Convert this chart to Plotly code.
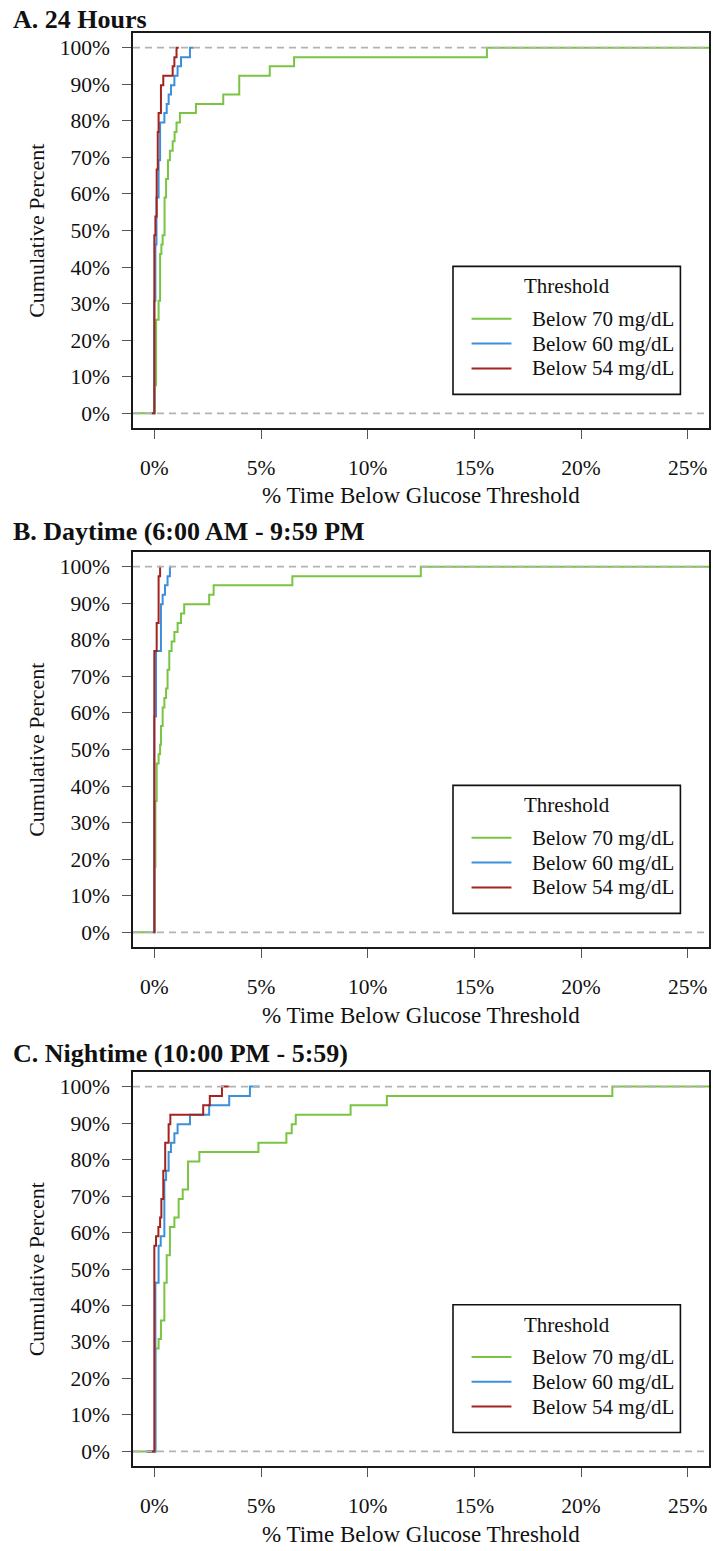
import plotly.graph_objects as go

# ---------------- data (jump positions in % time, cumulative percent after jump) -------------
panel_titles = ["A. 24 Hours", "B. Daytime (6:00 AM - 9:59 PM", "C. Nightime (10:00 PM - 5:59)"]
series_names = ["Below 70 mg/dL", "Below 60 mg/dL", "Below 54 mg/dL"]
series_colors = ["#7AC443", "#3D8FDA", "#A3231F"]

x_ticks = [0, 5, 10, 15, 20, 25]
x_ticktext = ["0%", "5%", "10%", "15%", "20%", "25%"]
y_ticks = [0, 10, 20, 30, 40, 50, 60, 70, 80, 90, 100]
y_ticktext = ["0%", "10%", "20%", "30%", "40%", "50%", "60%", "70%", "80%", "90%", "100%"]

# Panel A: 24 hours
a70_x = [0.02, 0.08, 0.20, 0.27, 0.33, 0.39, 0.48, 0.55, 0.64, 0.73, 0.86, 0.95, 1.04, 1.20, 1.95, 3.23, 3.98, 5.41, 6.55, 15.59]
a70_y = [7.7, 25.6, 30.8, 43.6, 46.2, 48.7, 59.0, 64.1, 69.2, 71.8, 74.4, 76.9, 79.5, 82.1, 84.6, 87.2, 92.3, 94.9, 97.4, 100]
a60_x = [0.0, 0.05, 0.10, 0.20, 0.27, 0.47, 0.58, 0.67, 0.78, 0.94, 1.09, 1.25, 1.67]
a60_y = [30.8, 46.2, 59.0, 69.2, 79.5, 82.1, 84.6, 87.2, 89.7, 92.3, 94.9, 97.4, 100]
a54_x = [0.0, 0.05, 0.11, 0.16, 0.20, 0.31, 0.42, 0.86, 0.94, 1.04]
a54_y = [48.7, 53.8, 66.7, 76.9, 82.1, 89.7, 92.3, 94.9, 97.4, 100]

# Panel B: daytime
b70_x = [0.02, 0.05, 0.11, 0.20, 0.27, 0.31, 0.39, 0.47, 0.55, 0.62, 0.70, 0.81, 0.94, 1.09, 1.25, 1.40, 2.57, 2.78, 6.47, 12.49]
b70_y = [17.9, 35.9, 46.2, 48.7, 51.3, 56.4, 61.5, 64.1, 66.7, 71.8, 76.9, 79.5, 82.1, 84.6, 87.2, 89.7, 92.3, 94.9, 97.4, 100]
b60_x = [0.0, 0.08, 0.31, 0.39, 0.50, 0.62, 0.73]
b60_y = [59.0, 76.9, 89.7, 92.3, 94.9, 97.4, 100]
b54_x = [0.0, 0.11, 0.20, 0.27]
b54_y = [76.9, 84.6, 97.4, 100]

# Panel C: nighttime
c70_x = [0.05, 0.20, 0.31, 0.47, 0.58, 0.73, 0.94, 1.14, 1.33, 1.58, 2.11, 4.88, 6.19, 6.44, 6.63, 9.20, 10.90, 21.47]
c70_y = [28.2, 30.8, 35.9, 46.2, 53.8, 61.5, 64.1, 69.2, 71.8, 79.5, 82.1, 84.6, 87.2, 89.7, 92.3, 94.9, 97.4, 100]
c60_x = [0.05, 0.20, 0.30, 0.47, 0.55, 0.67, 0.78, 0.94, 1.09, 1.67, 2.57, 3.51, 4.48]
c60_y = [46.2, 56.4, 59.0, 74.4, 76.9, 82.1, 84.6, 87.2, 89.7, 92.3, 94.9, 97.4, 100]
c54_x = [0.0, 0.08, 0.19, 0.27, 0.33, 0.42, 0.51, 0.67, 0.75, 2.29, 2.60, 3.17]
c54_y = [56.4, 59.0, 61.5, 64.1, 69.2, 76.9, 84.6, 89.7, 92.3, 94.9, 97.4, 100]

panels = [
    [(a70_x, a70_y), (a60_x, a60_y), (a54_x, a54_y)],
    [(b70_x, b70_y), (b60_x, b60_y), (b54_x, b54_y)],
    [(c70_x, c70_y), (c60_x, c60_y), (c54_x, c54_y)],
]

# ---------------- layout geometry ----------------
W, H = 713, 1551
ML, MR, MT, MB = 133, 2, 33, 85
PLOT_TOP, PLOT_BOT = MT, H - MB
PH = PLOT_BOT - PLOT_TOP
box_tops = [33, 552, 1072]
box_bots = [428, 947, 1466]
title_y = [19, 531, 1053]
XR = [-1, 26]
YR = [-4, 104]
FONT = "Liberation Serif, Times New Roman, serif"


def py(ypx):
    return (PLOT_BOT - ypx) / PH


def px(xpx):
    return (xpx - ML) / (W - ML - MR)


fig = go.Figure()
layout = dict(
    width=W, height=H,
    margin=dict(l=ML, r=MR, t=MT, b=MB),
    paper_bgcolor="white", plot_bgcolor="white",
    showlegend=False,
    font=dict(family=FONT, size=21, color="#111111"),
)
shapes, annotations = [], []

for i, series in enumerate(panels):
    sfx = "" if i == 0 else str(i + 1)
    xa, ya = "x" + sfx, "y" + sfx
    for j, (jx, jy) in enumerate(series):
        if j == 0:
            start, end = XR[0] - 1, XR[1] + 1
        else:
            ext = 0.1 * (max(jx) - min(jx))
            start, end = min(jx) - ext, max(jx) + ext
        xs = [start] + list(jx) + [end]
        ys = [0] + list(jy) + [jy[-1]]
        fig.add_trace(go.Scatter(
            x=xs, y=ys, mode="lines", line=dict(color=series_colors[j], width=2, shape="hv"),
            name=series_names[j], xaxis=xa, yaxis=ya, hoverinfo="skip"))

    dom = [py(box_bots[i]), py(box_tops[i])]
    axis_common = dict(showline=True, mirror=True, linecolor="#1a1a1a", linewidth=1.6,
                       ticks="outside", ticklen=9, tickwidth=1, tickcolor="#555555",
                       showgrid=False, zeroline=False, fixedrange=True,
                       tickfont=dict(family=FONT, size=21.5, color="#111111"))
    layout["xaxis" + sfx] = dict(axis_common, domain=[0, 1], range=XR, anchor=ya,
                                 tickmode="array", tickvals=x_ticks, ticktext=x_ticktext,
                                 ticklabelstandoff=10)
    layout["yaxis" + sfx] = dict(axis_common, domain=dom, range=YR, anchor=xa,
                                 tickmode="array", tickvals=y_ticks, ticktext=y_ticktext,
                                 ticklabelstandoff=8)

    # dashed reference lines at 0 and 1
    for yv in (0, 100):
        shapes.append(dict(type="line", xref=xa + " domain", yref=ya, x0=0, x1=1, y0=yv, y1=yv,
                           line=dict(color="#B3B3B3", width=1.6, dash="7px,5px"), layer="above"))

    # panel title
    annotations.append(dict(text="<b>%s</b>" % panel_titles[i], xref="paper", yref="paper",
                            x=px(11), y=py(title_y[i]), xanchor="left", yanchor="middle",
                            showarrow=False, font=dict(family=FONT, size=26, color="#111111")))
    # axis titles
    annotations.append(dict(text="% Time Below Glucose Threshold", xref="paper", yref="paper",
                            x=0.5, y=py(box_bots[i] + 68), xanchor="center", yanchor="middle",
                            showarrow=False, font=dict(family=FONT, size=23, color="#111111")))
    annotations.append(dict(text="Cumulative Percent", xref="paper", yref="paper", textangle=-90,
                            x=px(36), y=py((box_tops[i] + box_bots[i]) / 2), xanchor="center",
                            yanchor="middle", showarrow=False,
                            font=dict(family=FONT, size=22, color="#111111")))

    # legend box
    shapes.append(dict(type="rect", xref=xa, yref=ya, x0=14.0, x1=24.66, y0=5.2, y1=40.2,
                       line=dict(color="#111111", width=1.6), fillcolor="white", layer="above"))
    annotations.append(dict(text="Threshold", xref=xa, yref=ya, x=19.33, y=34.75,
                            xanchor="center", yanchor="middle", showarrow=False,
                            font=dict(family=FONT, size=21, color="#111111")))
    for j, yl in enumerate([25.9, 19.1, 12.3]):
        shapes.append(dict(type="line", xref=xa, yref=ya, x0=14.87, x1=16.74, y0=yl, y1=yl,
                           line=dict(color=series_colors[j], width=2), layer="above"))
        annotations.append(dict(text=series_names[j], xref=xa, yref=ya, x=17.62, y=yl,
                                xanchor="left", yanchor="middle", showarrow=False,
                                font=dict(family=FONT, size=21, color="#111111")))

layout["shapes"] = shapes
layout["annotations"] = annotations
fig.update_layout(**layout)
fig.write_html("out.html", config={"displayModeBar": False},
               post_script="document.body.style.margin='0';document.body.style.overflow='hidden';")
